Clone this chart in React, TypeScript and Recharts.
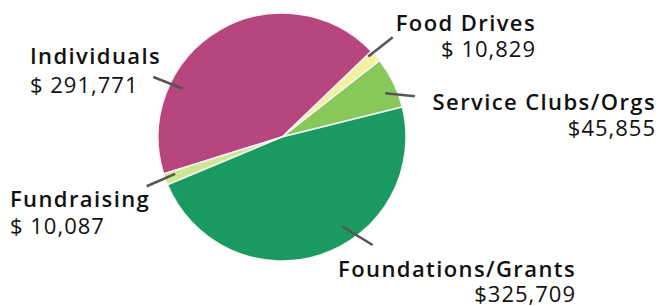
import { Pie, PieChart, Cell } from "recharts";

// slice order, counterclockwise from the right edge of Service Clubs
const names = ["Service Clubs/Orgs", "Food Drives", "Individuals", "Fundraising", "Foundations/Grants"];
const amounts = [45855, 10829, 291771, 10087, 325709];
const amountLabels = ["$45,855", "$ 10,829", "$ 291,771", "$ 10,087", "$325,709"];
const colors = ["#88c85a", "#f5f0a0", "#b7467f", "#cde68f", "#1a9960"];

// leader line (polar, from pie center) and text placement, per slice
const labelLayout = [
  { a1: 23, r1: 112, a2: 17, r2: 139, x: 656, y: 110, gap: 26, anchor: "end" },
  { a1: 43, r1: 118, a2: 42, r2: 149, x: 536, y: 31, gap: 26, anchor: "end" },
  { a1: 154, r1: 110, a2: 155, r2: 142, x: 30, y: 64, gap: 29, anchor: "start" },
  { a1: 199, r1: 113, a2: 200, r2: 144, x: 10, y: 207, gap: 27, anchor: "start" },
  { a1: 304, r1: 108, a2: 310, r2: 141, x: 576, y: 277, gap: 25, anchor: "end" },
];

const data = names.map((name, i) => ({ name, value: amounts[i] }));

const RAD = Math.PI / 180;
const font = "'Open Sans', sans-serif";

function renderLabel(props: any) {
  const { cx, cy, index } = props;
  const l = labelLayout[index];
  const x1 = cx + l.r1 * Math.cos(l.a1 * RAD);
  const y1 = cy - l.r1 * Math.sin(l.a1 * RAD);
  const x2 = cx + l.r2 * Math.cos(l.a2 * RAD);
  const y2 = cy - l.r2 * Math.sin(l.a2 * RAD);
  return (
    <g key={`lbl-${index}`}>
      <line x1={x1} y1={y1} x2={x2} y2={y2} stroke="#555" strokeWidth={2.5} />
      <text
        x={l.x}
        y={l.y}
        textAnchor={l.anchor}
        fontFamily={font}
        fontSize={22}
        fontWeight={600}
        letterSpacing={1.4}
        fill="#111"
      >
        {names[index]}
      </text>
      <text
        x={l.x}
        y={l.y + l.gap}
        textAnchor={l.anchor}
        fontFamily={font}
        fontSize={22}
        fontWeight={400}
        letterSpacing={1}
        fill="#111"
      >
        {amountLabels[index]}
      </text>
    </g>
  );
}

export default function App() {
  return (
    <div style={{ position: "absolute", left: 0, top: 0, width: 659, height: 306, background: "#fff" }}>
      <PieChart width={659} height={306} margin={{ top: 0, right: 0, bottom: 0, left: 0 }}>
        <Pie
          data={data}
          dataKey="value"
          nameKey="name"
          cx={282}
          cy={137}
          innerRadius={0}
          outerRadius={124}
          startAngle={14}
          endAngle={374}
          stroke="#f4f4f4"
          strokeWidth={1.5}
          label={renderLabel}
          labelLine={false}
          isAnimationActive={false}
        >
          {data.map((d, i) => (
            <Cell key={d.name} fill={colors[i]} />
          ))}
        </Pie>
      </PieChart>
    </div>
  );
}
